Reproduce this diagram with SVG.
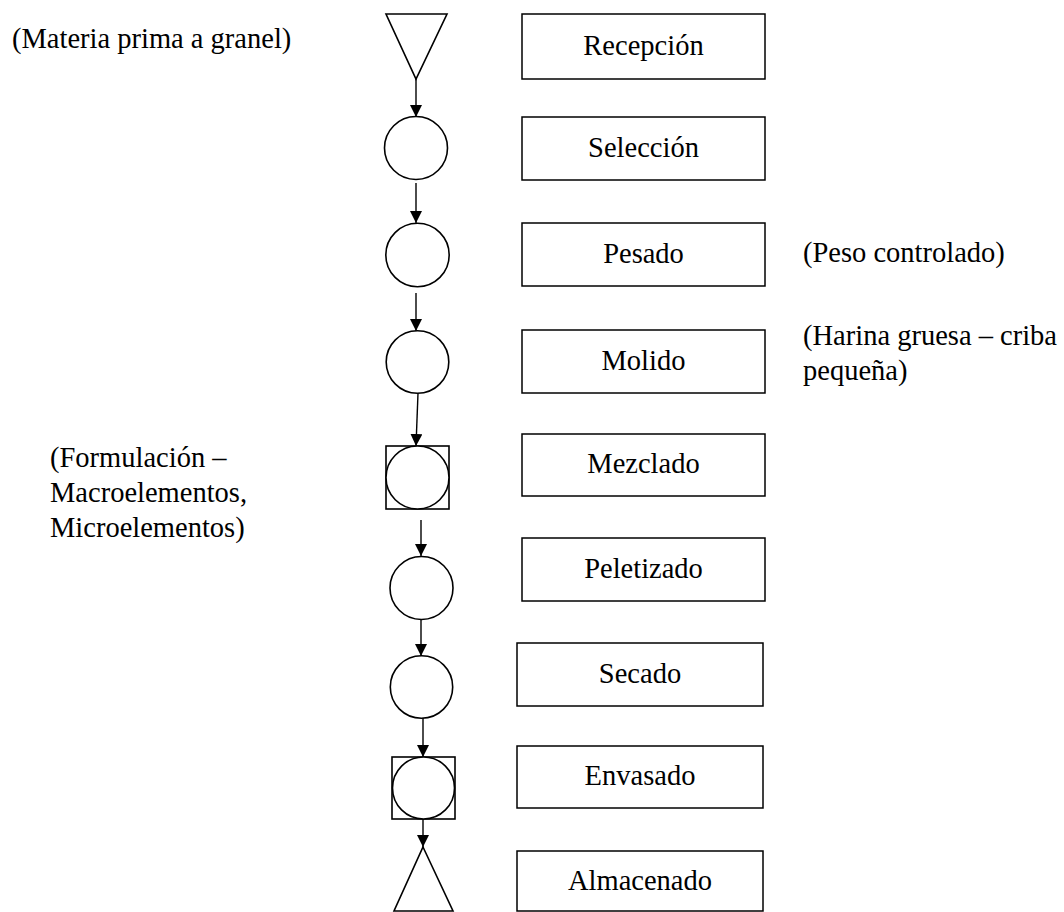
<svg xmlns="http://www.w3.org/2000/svg" width="1064" height="912" viewBox="0 0 1064 912">
<defs>
<marker id="arr" viewBox="0 0 10 10" refX="10" refY="5" markerWidth="12" markerHeight="12" markerUnits="userSpaceOnUse" orient="auto">
<path d="M0,0 L10,5 L0,10 z" fill="#000"/>
</marker>
<style>
.sym{fill:#fff;stroke:#000;stroke-width:1.6}
.box{fill:#fff;stroke:#000;stroke-width:1.5}
.c{text-anchor:middle}
.con{stroke:#000;stroke-width:1.4;fill:none;marker-end:url(#arr)}
</style>
</defs>
<rect width="1064" height="912" fill="#fff"/>

<g id="connectors">
<line class="con" x1="416" y1="79" x2="416" y2="117"/>
<line class="con" x1="416" y1="183" x2="416" y2="223"/>
<line class="con" x1="416" y1="293" x2="416" y2="331"/>
<line class="con" x1="418" y1="393" x2="416" y2="446"/>
<line class="con" x1="421" y1="520" x2="421" y2="556"/>
<line class="con" x1="421" y1="620" x2="421" y2="656"/>
<line class="con" x1="423" y1="718" x2="423" y2="757"/>
<line class="con" x1="423" y1="819" x2="423" y2="847"/>
</g>

<g font-family="'Liberation Serif', 'Times New Roman', 'DejaVu Serif', serif" font-size="28.5" fill="#000">
<g id="recepcion">
<polygon class="sym" points="386,14 447,14 416,79"/>
<rect class="box" x="522" y="14" width="243" height="65"/>
<text class="c" x="643.5" y="55">Recepción</text>
</g>
<g id="seleccion">
<circle class="sym" cx="416" cy="148" r="31.5"/>
<rect class="box" x="522" y="117" width="243" height="63"/>
<text class="c" x="643.5" y="157">Selección</text>
</g>
<g id="pesado">
<circle class="sym" cx="417.5" cy="255" r="31.7"/>
<rect class="box" x="522" y="223" width="243" height="63"/>
<text class="c" x="643.5" y="263">Pesado</text>
</g>
<g id="molido">
<circle class="sym" cx="417.5" cy="362" r="31.3"/>
<rect class="box" x="522" y="330" width="243" height="63"/>
<text class="c" x="643.5" y="370">Molido</text>
</g>
<g id="mezclado">
<rect class="sym" x="386" y="446" width="63" height="63"/>
<circle class="sym" cx="417.5" cy="477.5" r="31.5"/>
<rect class="box" x="522" y="434" width="243" height="62"/>
<text class="c" x="643.5" y="473">Mezclado</text>
</g>
<g id="peletizado">
<circle class="sym" cx="421.5" cy="588" r="31.5"/>
<rect class="box" x="522" y="538" width="243" height="63"/>
<text class="c" x="643.5" y="578">Peletizado</text>
</g>
<g id="secado">
<circle class="sym" cx="421.5" cy="687" r="31.2"/>
<rect class="box" x="517" y="643" width="246" height="63"/>
<text class="c" x="640" y="683">Secado</text>
</g>
<g id="envasado">
<rect class="sym" x="392" y="757" width="63" height="62"/>
<circle class="sym" cx="423.5" cy="788" r="31"/>
<rect class="box" x="517" y="746" width="246" height="62"/>
<text class="c" x="640" y="785">Envasado</text>
</g>
<g id="almacenado">
<polygon class="sym" points="423,847 453,911 394,911"/>
<rect class="box" x="517" y="851" width="246" height="60"/>
<text class="c" x="640" y="890">Almacenado</text>
</g>

<g id="notes">
<text x="12" y="48">(Materia prima a granel)</text>
<text x="803" y="262">(Peso controlado)</text>
<text x="803" y="345">(Harina gruesa – criba</text>
<text x="803" y="380">pequeña)</text>
<text x="50" y="467">(Formulación –</text>
<text x="50" y="502">Macroelementos,</text>
<text x="50" y="537">Microelementos)</text>
</g>
</g>
</svg>
